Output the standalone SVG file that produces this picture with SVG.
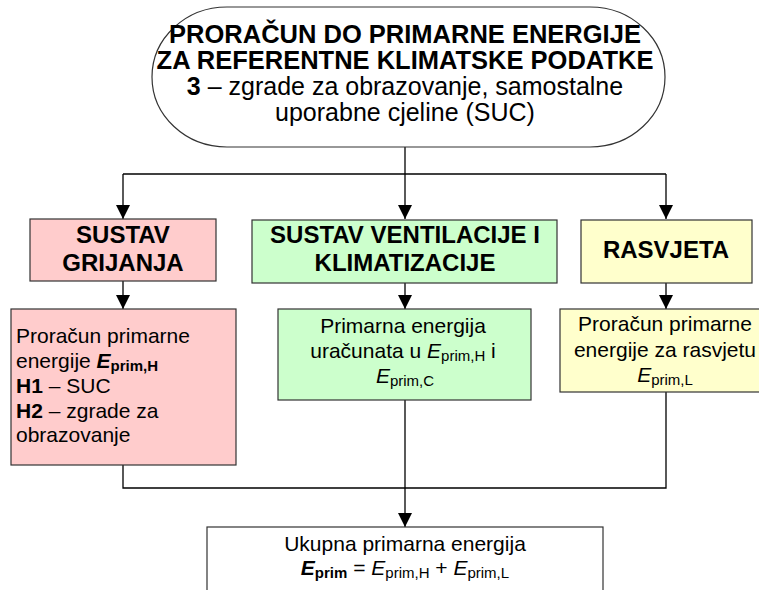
<svg xmlns="http://www.w3.org/2000/svg" width="759" height="590" viewBox="0 0 759 590">
<style>
text{font-family:"Liberation Sans",Arial,sans-serif;fill:#000}
.t{font-size:25.5px;font-weight:bold;text-anchor:middle}
.tr{font-size:25px;text-anchor:middle}
.h{font-size:24px;font-weight:bold;text-anchor:middle}
.b{font-size:21px}
.c{text-anchor:middle}
.s{font-size:15px}
.box{stroke:#333;stroke-width:1.2}
.ln{fill:none;stroke:#000;stroke-width:1.3}
</style>
<defs>
<marker id="ar" markerWidth="14" markerHeight="14" refX="14" refY="7" orient="auto" markerUnits="userSpaceOnUse">
<path d="M0,0 L14,7 L0,14 Z" fill="#000"/>
</marker>
</defs>
<rect width="759" height="590" fill="#fff"/>
<g id="connectors">
<path class="ln" d="M405,147 V174"/>
<path class="ln" d="M123,174 H666"/>
<path class="ln" d="M123,174 V219" marker-end="url(#ar)"/>
<path class="ln" d="M405,174 V219" marker-end="url(#ar)"/>
<path class="ln" d="M666,174 V219" marker-end="url(#ar)"/>
<path class="ln" d="M123,281 V309" marker-end="url(#ar)"/>
<path class="ln" d="M405,283 V309" marker-end="url(#ar)"/>
<path class="ln" d="M666,283 V309" marker-end="url(#ar)"/>
<path class="ln" d="M123,465 V488 H666 V392"/>
<path class="ln" d="M405,400 V527" marker-end="url(#ar)"/>
</g>
<g id="title">
<rect class="box" x="152" y="7" width="513" height="140" rx="75" ry="70" fill="#fff"/>
<text class="t" x="405" y="43">PRORAČUN DO PRIMARNE ENERGIJE</text>
<text class="t" x="405" y="69">ZA REFERENTNE KLIMATSKE PODATKE</text>
<text class="tr" x="405" y="95"><tspan font-weight="bold">3</tspan> – zgrade za obrazovanje, samostalne</text>
<text class="tr" x="405" y="121">uporabne cjeline (SUC)</text>
</g>
<g id="grijanje">
<rect class="box" x="30" y="219" width="186" height="62" fill="#FFCCCC"/>
<text class="h" x="123" y="243">SUSTAV</text>
<text class="h" x="123" y="271">GRIJANJA</text>
</g>
<g id="ventilacija">
<rect class="box" x="252" y="220" width="305" height="63" fill="#CCFFCC"/>
<text class="h" x="405" y="243">SUSTAV VENTILACIJE I</text>
<text class="h" x="405" y="271">KLIMATIZACIJE</text>
</g>
<g id="rasvjeta">
<rect class="box" x="581" y="220" width="171" height="63" fill="#FFFFCC"/>
<text class="h" x="666" y="258">RASVJETA</text>
</g>
<g id="grijanje-proracun">
<rect class="box" x="11" y="309" width="225" height="156" fill="#FFCCCC"/>
<text class="b" x="16" y="343">Proračun primarne</text>
<text class="b" x="16" y="368">energije <tspan font-weight="bold" font-style="italic">E</tspan><tspan class="s" font-weight="bold" dy="3">prim,H</tspan></text>
<text class="b" x="16" y="393"><tspan font-weight="bold">H1</tspan> – SUC</text>
<text class="b" x="16" y="418"><tspan font-weight="bold">H2</tspan> – zgrade za</text>
<text class="b" x="16" y="442">obrazovanje</text>
</g>
<g id="ventilacija-energija">
<rect class="box" x="278" y="309" width="253" height="91" fill="#CCFFCC"/>
<text class="b c" x="403" y="333">Primarna energija</text>
<text class="b c" x="403" y="358">uračunata u <tspan font-style="italic">E</tspan><tspan class="s" dy="3">prim,H</tspan><tspan dy="-3"> i</tspan></text>
<text class="b c" x="405" y="383"><tspan font-style="italic">E</tspan><tspan class="s" dy="3">prim,C</tspan></text>
</g>
<g id="rasvjeta-proracun">
<rect class="box" x="560" y="309" width="210" height="83" fill="#FFFFCC"/>
<text class="b c" x="665" y="331">Proračun primarne</text>
<text class="b c" x="665" y="357">energije za rasvjetu</text>
<text class="b c" x="665" y="382"><tspan font-style="italic">E</tspan><tspan class="s" dy="3">prim,L</tspan></text>
</g>
<g id="ukupno">
<rect class="box" x="207" y="527" width="396" height="80" fill="#fff"/>
<text class="b c" x="405" y="551">Ukupna primarna energija</text>
<text class="b c" x="405" y="575"><tspan font-weight="bold" font-style="italic">E</tspan><tspan class="s" font-weight="bold" dy="3">prim</tspan><tspan dy="-3"> = </tspan><tspan font-style="italic">E</tspan><tspan class="s" dy="3">prim,H</tspan><tspan dy="-3"> + </tspan><tspan font-style="italic">E</tspan><tspan class="s" dy="3">prim,L</tspan></text>
</g>
</svg>
